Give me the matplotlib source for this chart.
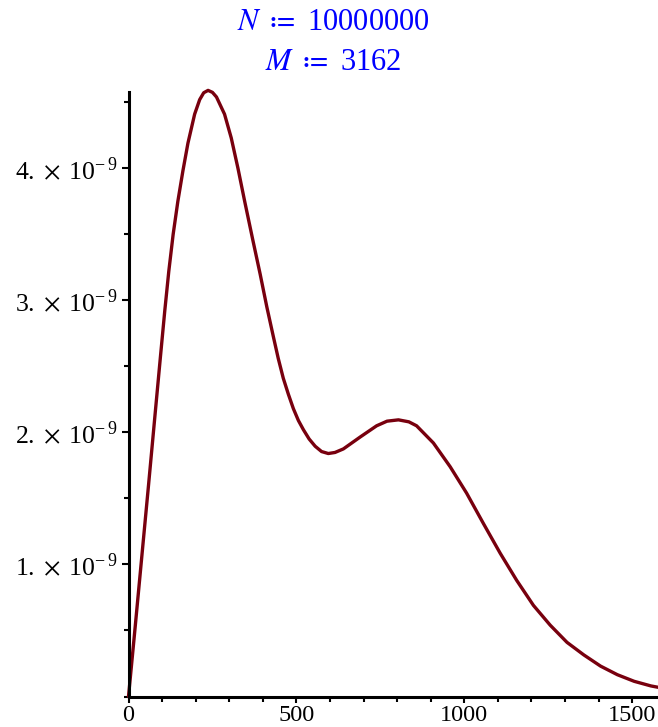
import matplotlib
matplotlib.use("Agg")
import matplotlib.pyplot as plt
from matplotlib.ticker import MultipleLocator, FixedLocator

plt.rcParams['font.family'] = ['Liberation Serif', 'DejaVu Serif']
plt.rcParams['mathtext.fontset'] = 'stix'

# data (y in units of 1e-9)
x_vals = [0, 20, 40, 60, 80, 95, 108, 120, 133, 147, 162, 177, 197, 212, 224, 237, 250,
          262, 286, 306, 326, 346, 370, 392, 412, 431, 446, 461, 476, 491, 506, 521, 538,
          556, 575, 595, 615, 640, 665, 690, 739, 770, 804, 835, 858, 908, 958, 1007, 1057,
          1107, 1156, 1206, 1256, 1306, 1356, 1406, 1456, 1506, 1556, 1581]
y_vals = [0, 0.53, 1.07, 1.61, 2.16, 2.57, 2.92, 3.22, 3.50, 3.75, 3.98, 4.19, 4.41, 4.52,
          4.572, 4.59, 4.575, 4.54, 4.41, 4.23, 4.00, 3.75, 3.46, 3.20, 2.95, 2.73, 2.56,
          2.41, 2.29, 2.18, 2.09, 2.02, 1.95, 1.895, 1.855, 1.84, 1.848, 1.875, 1.92, 1.965,
          2.05, 2.085, 2.095, 2.08, 2.05, 1.92, 1.74, 1.54, 1.31, 1.085, 0.88, 0.69, 0.54,
          0.41, 0.315, 0.23, 0.165, 0.115, 0.08, 0.068]
y_scale = 1e-9
y_ticks = [1, 2, 3, 4]
y_ticklabels = ["%d.$\\;\\times\\;$10$^{\\mathregular{-\\,9}}$" % v for v in y_ticks]
x_ticks = [0, 500, 1000, 1500]
title_lines = [r"$N$ $\coloneq$ 10000000", r"$M$ $\coloneq$ 3162"]

W, H = 658, 727
fig = plt.figure(figsize=(W / 100, H / 100), dpi=100)
ax = fig.add_axes([128.5 / W, 30.5 / H, 1 - 128.5 / W, 604.8 / H])

ys = [v * y_scale for v in y_vals]
ax.plot(x_vals, ys, color='#78000E', lw=2.4, solid_joinstyle='round',
        solid_capstyle='round', clip_on=False)

ax.set_xlim(0, 1577)
ax.set_ylim(0, 4.58e-9)

for s in ['top', 'right']:
    ax.spines[s].set_visible(False)
for s in ['left', 'bottom']:
    ax.spines[s].set_linewidth(2.2)

ax.xaxis.set_major_locator(FixedLocator(x_ticks))
ax.xaxis.set_minor_locator(MultipleLocator(100))
ax.yaxis.set_major_locator(FixedLocator([v * y_scale for v in y_ticks]))
ax.yaxis.set_minor_locator(MultipleLocator(0.5e-9))
ax.set_xticklabels([str(v) for v in x_ticks])
ax.set_yticklabels(y_ticklabels)

ax.tick_params(axis='x', which='major', length=4, width=1.5, pad=2, labelsize=17.5)
ax.tick_params(axis='x', which='minor', length=3.5, width=1.5)
ax.tick_params(axis='y', which='major', length=5, width=1.5, pad=3, labelsize=18.5)
ax.tick_params(axis='y', which='minor', length=3.5, width=1.5)

fig.text(333 / W, 1 - 22 / H, title_lines[0], color='#0000FF', fontsize=22,
         ha='center', va='center')
fig.text(333 / W, 1 - 63 / H, title_lines[1], color='#0000FF', fontsize=22,
         ha='center', va='center')

fig.savefig('out.png', dpi=100)
